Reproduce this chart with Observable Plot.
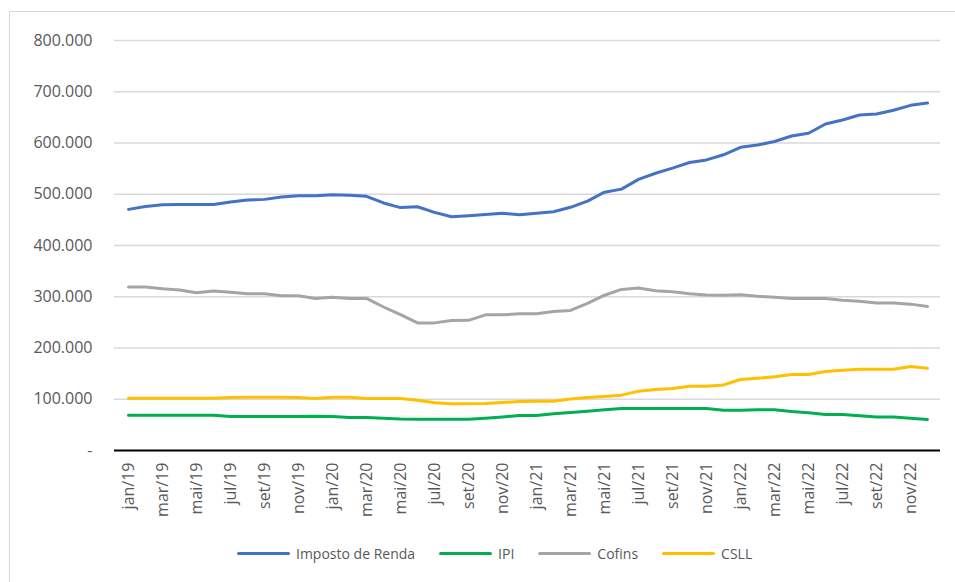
<!DOCTYPE html>
<html>
<head>
<meta charset="utf-8">
<script src="https://cdn.jsdelivr.net/npm/d3@7"></script>
<script src="https://cdn.jsdelivr.net/npm/@observablehq/plot@0.6"></script>
<style>
html, body { margin: 0; padding: 0; background: #fff; overflow: hidden; width: 955px; height: 582px; }
#wrap { position: relative; width: 955px; height: 582px; font-family: "Open Sans", sans-serif; }
#border { position: absolute; left: 9px; top: 11px; width: 1000px; height: 1000px; border: 1px solid #d9d9d9; box-sizing: border-box; }
#chart { position: absolute; left: 0; top: 0; }
#legend { position: absolute; top: 543px; left: 237px; display: flex; align-items: center; font-size: 14px; color: #595959; height: 20px; white-space: nowrap; }
.item { display: flex; align-items: center; margin-right: 24px; }
.sw { width: 53px; height: 3px; margin-right: 6px; border-radius: 1.5px; }
</style>
</head>
<body>
<div id="wrap">
  <div id="border"></div>
  <div id="chart"></div>
  <div id="legend"></div>
</div>
<script>
// ---- Data (values in thousands) ----
const meses = [
  "jan/19","fev/19","mar/19","abr/19","mai/19","jun/19","jul/19","ago/19","set/19","out/19","nov/19","dez/19",
  "jan/20","fev/20","mar/20","abr/20","mai/20","jun/20","jul/20","ago/20","set/20","out/20","nov/20","dez/20",
  "jan/21","fev/21","mar/21","abr/21","mai/21","jun/21","jul/21","ago/21","set/21","out/21","nov/21","dez/21",
  "jan/22","fev/22","mar/22","abr/22","mai/22","jun/22","jul/22","ago/22","set/22","out/22","nov/22","dez/22"
];
const xTickLabels = meses.filter((m, i) => i % 2 === 0);
const yTicks = [0, 100000, 200000, 300000, 400000, 500000, 600000, 700000, 800000];

const seriesNames = ["Imposto de Renda", "IPI", "Cofins", "CSLL"];
const seriesColors = ["#4472C4", "#00B050", "#A5A5A5", "#FFC000"];

const impostoRenda = [470.5,476,479.5,480,480,480,485,489,490,494.5,497,497,
  499,498,496,483,474,475.6,464.7,456,458,460.7,463,460,
  462.7,466,474.5,486.7,504,510,529,541,551,562,567,577,
  591.5,596,603,613.6,619,637,645,654.6,656.6,664,673.5,678];
const ipi = [69,69,69,69,69,69,66.4,66.4,66.4,66.4,66.4,67,
  66.4,64.4,64.4,63,61.5,61,61,61,61,63,65.6,68.3,
  68.3,71.5,74,76.7,79.3,82,82,82,82,82,82,78.7,
  78.7,79.3,79.3,76,73.5,70.3,70.3,67.6,65.6,65.6,63,60.5];
const cofins = [319,319,315.5,313,307.7,311,308.6,306,306,302,302,296.7,
  299,296.7,296.7,280,265,249,249,253.8,254,264.7,264.7,266.7,
  266.7,271.4,273.3,287,303,314.3,316.9,311.6,309.7,305.8,303.2,303,
  303.8,301,299,296.7,296.7,296.7,293.4,291,288,288,285.6,281];
const csll = [102,102,102,102,102,102,103.5,104,104,104,103.5,101.5,
  104,104,101.5,101.5,101.5,98,93,91,91,91.5,93.7,95.6,
  96,96,100.7,103.5,105.4,108,115.8,119,121,125.5,125.5,128,
  138.6,141,143.7,148.4,148.4,154,156.8,158.7,158.7,158.7,164,160.7];

const seriesValues = [impostoRenda, ipi, cofins, csll];
const rows = seriesNames.flatMap((name, s) =>
  seriesValues[s].map((v, i) => ({ mes: meses[i], valor: v * 1000, serie: name })));

const fmt = d3.formatLocale({ decimal: ",", thousands: ".", grouping: [3], currency: ["R$", ""] }).format(",.0f");

const chart = Plot.plot({
  width: 955,
  height: 582,
  marginLeft: 114,
  marginRight: 15,
  marginTop: 40,
  marginBottom: 132,
  style: { fontFamily: "Open Sans, sans-serif", fontSize: "16px", color: "#595959", background: "transparent", overflow: "visible" },
  x: { type: "point", domain: meses, padding: 0.5, ticks: xTickLabels, tickSize: 0, tickPadding: 12, tickRotate: -90, label: null },
  y: { domain: [0, 800000], ticks: yTicks, tickSize: 0, tickPadding: 22, tickFormat: d => d === 0 ? "-" : fmt(d), label: null },
  color: { domain: seriesNames, range: seriesColors },
  marks: [
    Plot.ruleY(yTicks.filter(d => d > 0), { stroke: "#d9d9d9", strokeWidth: 1.3 }),
    Plot.ruleY([0], { stroke: "#000", strokeWidth: 2 }),
    Plot.line(rows, { x: "mes", y: "valor", z: "serie", stroke: "serie", strokeWidth: 3, strokeLinejoin: "round", strokeLinecap: "round" })
  ]
});
document.getElementById("chart").appendChild(chart);

const legend = document.getElementById("legend");
seriesNames.forEach((name, i) => {
  const item = document.createElement("div");
  item.className = "item";
  const sw = document.createElement("span");
  sw.className = "sw";
  sw.style.background = seriesColors[i];
  const t = document.createElement("span");
  t.textContent = name;
  item.appendChild(sw);
  item.appendChild(t);
  legend.appendChild(item);
});
</script>
</body>
</html>
